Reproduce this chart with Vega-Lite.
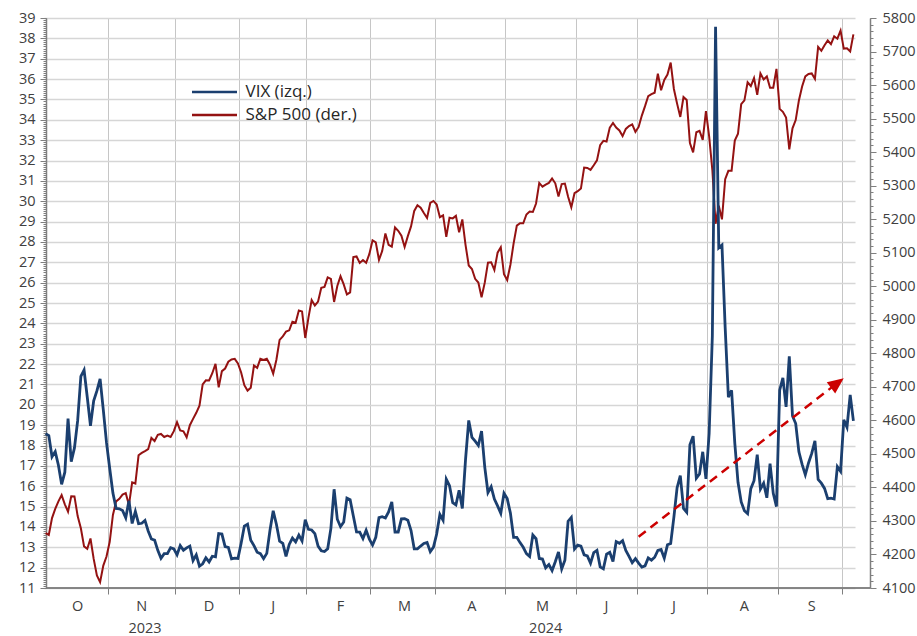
{
  "$schema": "https://vega.github.io/schema/vega-lite/v6.json",
  "width": 824,
  "height": 570,
  "autosize": {"type": "none"},
  "padding": {"left": 46, "top": 18, "right": 47, "bottom": 48},
  "background": "white",
  "config": {
    "font": "Open Sans",
    "view": {"stroke": null},
    "axis": {"labelFont": "Open Sans", "labelFontSize": 14.5, "labelColor": "#404040", "domainColor": "#7f7f7f", "tickColor": "#7f7f7f", "title": null},
    "legend": {"symbolType": "stroke", "symbolSize": 2025, "symbolStrokeWidth": 2.5, "labelFont": "Open Sans", "labelFontSize": 17, "labelColor": "#262626", "labelOffset": 7, "padding": 0}
  },
  "data": {"values": [
    {"date":"2023-10-04","vix":18.58,"spx":4263.75},{"date":"2023-10-05","vix":18.49,"spx":4258.19},{"date":"2023-10-06","vix":17.45,"spx":4308.50},{"date":"2023-10-09","vix":17.70,"spx":4335.66},{"date":"2023-10-10","vix":17.03,"spx":4358.24},{"date":"2023-10-11","vix":16.09,"spx":4376.95},{"date":"2023-10-12","vix":16.69,"spx":4349.61},{"date":"2023-10-13","vix":19.32,"spx":4327.78},{"date":"2023-10-16","vix":17.21,"spx":4373.63},{"date":"2023-10-17","vix":17.88,"spx":4373.20},{"date":"2023-10-18","vix":19.22,"spx":4314.60},{"date":"2023-10-19","vix":21.40,"spx":4278.00},{"date":"2023-10-20","vix":21.71,"spx":4224.16},{"date":"2023-10-23","vix":20.37,"spx":4217.04},{"date":"2023-10-24","vix":18.97,"spx":4247.68},{"date":"2023-10-25","vix":20.19,"spx":4186.77},{"date":"2023-10-26","vix":20.68,"spx":4137.23},{"date":"2023-10-27","vix":21.27,"spx":4117.37},{"date":"2023-10-30","vix":19.75,"spx":4166.82},{"date":"2023-10-31","vix":18.14,"spx":4193.80},
    {"date":"2023-11-01","vix":16.87,"spx":4237.86},{"date":"2023-11-02","vix":15.66,"spx":4317.78},{"date":"2023-11-03","vix":14.91,"spx":4358.34},{"date":"2023-11-06","vix":14.89,"spx":4365.98},{"date":"2023-11-07","vix":14.81,"spx":4378.38},{"date":"2023-11-08","vix":14.45,"spx":4382.78},{"date":"2023-11-09","vix":15.29,"spx":4347.35},{"date":"2023-11-10","vix":14.17,"spx":4415.24},{"date":"2023-11-13","vix":14.76,"spx":4411.55},{"date":"2023-11-14","vix":14.16,"spx":4495.70},{"date":"2023-11-15","vix":14.18,"spx":4502.88},{"date":"2023-11-16","vix":14.32,"spx":4508.24},{"date":"2023-11-17","vix":13.80,"spx":4514.02},{"date":"2023-11-20","vix":13.41,"spx":4547.38},{"date":"2023-11-21","vix":13.35,"spx":4538.19},{"date":"2023-11-22","vix":12.85,"spx":4556.62},{"date":"2023-11-24","vix":12.46,"spx":4559.34},{"date":"2023-11-27","vix":12.69,"spx":4550.43},{"date":"2023-11-28","vix":12.69,"spx":4554.89},{"date":"2023-11-29","vix":12.98,"spx":4550.58},{"date":"2023-11-30","vix":12.92,"spx":4567.80},
    {"date":"2023-12-01","vix":12.63,"spx":4594.63},{"date":"2023-12-04","vix":13.08,"spx":4569.78},{"date":"2023-12-05","vix":12.85,"spx":4567.18},{"date":"2023-12-06","vix":12.97,"spx":4549.34},{"date":"2023-12-07","vix":13.06,"spx":4585.59},{"date":"2023-12-08","vix":12.35,"spx":4604.37},{"date":"2023-12-11","vix":12.63,"spx":4622.44},{"date":"2023-12-12","vix":12.07,"spx":4643.70},{"date":"2023-12-13","vix":12.19,"spx":4707.09},{"date":"2023-12-14","vix":12.48,"spx":4719.55},{"date":"2023-12-15","vix":12.28,"spx":4719.19},{"date":"2023-12-18","vix":12.56,"spx":4740.56},{"date":"2023-12-19","vix":12.53,"spx":4768.37},{"date":"2023-12-20","vix":13.67,"spx":4698.35},{"date":"2023-12-21","vix":13.65,"spx":4746.75},{"date":"2023-12-22","vix":13.03,"spx":4754.63},{"date":"2023-12-26","vix":12.99,"spx":4774.75},{"date":"2023-12-27","vix":12.43,"spx":4781.58},{"date":"2023-12-28","vix":12.47,"spx":4783.35},{"date":"2023-12-29","vix":12.45,"spx":4769.83},
    {"date":"2024-01-02","vix":13.20,"spx":4742.83},{"date":"2024-01-03","vix":14.04,"spx":4704.81},{"date":"2024-01-04","vix":14.13,"spx":4688.68},{"date":"2024-01-05","vix":13.35,"spx":4697.24},{"date":"2024-01-08","vix":13.08,"spx":4763.54},{"date":"2024-01-09","vix":12.76,"spx":4756.50},{"date":"2024-01-10","vix":12.69,"spx":4783.45},{"date":"2024-01-11","vix":12.44,"spx":4780.24},{"date":"2024-01-12","vix":12.70,"spx":4783.83},{"date":"2024-01-16","vix":13.84,"spx":4765.98},{"date":"2024-01-17","vix":14.79,"spx":4739.21},{"date":"2024-01-18","vix":14.13,"spx":4780.94},{"date":"2024-01-19","vix":13.30,"spx":4839.81},{"date":"2024-01-22","vix":13.19,"spx":4850.43},{"date":"2024-01-23","vix":12.55,"spx":4864.60},{"date":"2024-01-24","vix":13.14,"spx":4868.55},{"date":"2024-01-25","vix":13.45,"spx":4894.16},{"date":"2024-01-26","vix":13.26,"spx":4890.97},{"date":"2024-01-29","vix":13.60,"spx":4927.93},{"date":"2024-01-30","vix":13.31,"spx":4924.97},{"date":"2024-01-31","vix":14.35,"spx":4845.65},
    {"date":"2024-02-01","vix":13.88,"spx":4906.19},{"date":"2024-02-02","vix":13.85,"spx":4958.61},{"date":"2024-02-05","vix":13.67,"spx":4942.81},{"date":"2024-02-06","vix":13.06,"spx":4954.23},{"date":"2024-02-07","vix":12.83,"spx":4995.06},{"date":"2024-02-08","vix":12.79,"spx":4997.91},{"date":"2024-02-09","vix":12.93,"spx":5026.61},{"date":"2024-02-12","vix":13.93,"spx":5021.84},{"date":"2024-02-13","vix":15.85,"spx":4953.17},{"date":"2024-02-14","vix":14.38,"spx":5000.62},{"date":"2024-02-15","vix":14.01,"spx":5029.73},{"date":"2024-02-16","vix":14.24,"spx":5005.57},{"date":"2024-02-20","vix":15.42,"spx":4975.51},{"date":"2024-02-21","vix":15.34,"spx":4981.80},{"date":"2024-02-22","vix":14.54,"spx":5087.03},{"date":"2024-02-23","vix":13.75,"spx":5088.80},{"date":"2024-02-26","vix":13.74,"spx":5069.53},{"date":"2024-02-27","vix":13.43,"spx":5078.18},{"date":"2024-02-28","vix":13.84,"spx":5069.76},{"date":"2024-02-29","vix":13.40,"spx":5096.27},
    {"date":"2024-03-01","vix":13.11,"spx":5137.08},{"date":"2024-03-04","vix":13.49,"spx":5130.95},{"date":"2024-03-05","vix":14.46,"spx":5078.65},{"date":"2024-03-06","vix":14.50,"spx":5104.76},{"date":"2024-03-07","vix":14.44,"spx":5157.36},{"date":"2024-03-08","vix":14.74,"spx":5123.69},{"date":"2024-03-11","vix":15.23,"spx":5117.94},{"date":"2024-03-12","vix":13.75,"spx":5175.27},{"date":"2024-03-13","vix":13.75,"spx":5165.31},{"date":"2024-03-14","vix":14.40,"spx":5150.48},{"date":"2024-03-15","vix":14.41,"spx":5117.09},{"date":"2024-03-18","vix":14.33,"spx":5149.42},{"date":"2024-03-19","vix":13.82,"spx":5178.51},{"date":"2024-03-20","vix":12.92,"spx":5224.62},{"date":"2024-03-21","vix":12.92,"spx":5241.53},{"date":"2024-03-22","vix":13.06,"spx":5234.18},{"date":"2024-03-25","vix":13.19,"spx":5218.19},{"date":"2024-03-26","vix":13.24,"spx":5203.58},{"date":"2024-03-27","vix":12.78,"spx":5248.49},{"date":"2024-03-28","vix":13.01,"spx":5254.35},
    {"date":"2024-04-01","vix":13.65,"spx":5243.77},{"date":"2024-04-02","vix":14.61,"spx":5205.81},{"date":"2024-04-03","vix":14.33,"spx":5211.49},{"date":"2024-04-04","vix":16.35,"spx":5147.21},{"date":"2024-04-05","vix":16.03,"spx":5204.34},{"date":"2024-04-08","vix":15.19,"spx":5202.39},{"date":"2024-04-09","vix":15.08,"spx":5209.91},{"date":"2024-04-10","vix":15.80,"spx":5160.64},{"date":"2024-04-11","vix":14.91,"spx":5199.06},{"date":"2024-04-12","vix":17.31,"spx":5123.41},{"date":"2024-04-15","vix":19.23,"spx":5061.82},{"date":"2024-04-16","vix":18.40,"spx":5051.41},{"date":"2024-04-17","vix":18.21,"spx":5022.21},{"date":"2024-04-18","vix":18.00,"spx":5011.12},{"date":"2024-04-19","vix":18.71,"spx":4967.23},{"date":"2024-04-22","vix":16.94,"spx":5010.60},{"date":"2024-04-23","vix":15.69,"spx":5070.55},{"date":"2024-04-24","vix":15.97,"spx":5071.63},{"date":"2024-04-25","vix":15.37,"spx":5048.42},{"date":"2024-04-26","vix":15.03,"spx":5099.96},{"date":"2024-04-29","vix":14.67,"spx":5116.17},{"date":"2024-04-30","vix":15.65,"spx":5035.69},
    {"date":"2024-05-01","vix":15.39,"spx":5018.39},{"date":"2024-05-02","vix":14.68,"spx":5064.20},{"date":"2024-05-03","vix":13.49,"spx":5127.79},{"date":"2024-05-06","vix":13.49,"spx":5180.74},{"date":"2024-05-07","vix":13.23,"spx":5187.70},{"date":"2024-05-08","vix":13.00,"spx":5187.67},{"date":"2024-05-09","vix":12.69,"spx":5214.08},{"date":"2024-05-10","vix":12.55,"spx":5222.68},{"date":"2024-05-13","vix":13.60,"spx":5221.42},{"date":"2024-05-14","vix":13.42,"spx":5246.68},{"date":"2024-05-15","vix":12.45,"spx":5308.15},{"date":"2024-05-16","vix":12.42,"spx":5297.10},{"date":"2024-05-17","vix":11.99,"spx":5303.27},{"date":"2024-05-20","vix":12.15,"spx":5308.13},{"date":"2024-05-21","vix":11.86,"spx":5321.41},{"date":"2024-05-22","vix":12.29,"spx":5307.01},{"date":"2024-05-23","vix":12.77,"spx":5267.84},{"date":"2024-05-24","vix":11.93,"spx":5304.72},{"date":"2024-05-28","vix":12.36,"spx":5306.04},{"date":"2024-05-29","vix":14.28,"spx":5266.95},{"date":"2024-05-30","vix":14.47,"spx":5235.48},{"date":"2024-05-31","vix":12.92,"spx":5277.51},
    {"date":"2024-06-03","vix":13.11,"spx":5283.40},{"date":"2024-06-04","vix":13.06,"spx":5291.34},{"date":"2024-06-05","vix":12.63,"spx":5354.03},{"date":"2024-06-06","vix":12.58,"spx":5352.96},{"date":"2024-06-07","vix":12.22,"spx":5346.99},{"date":"2024-06-10","vix":12.74,"spx":5360.79},{"date":"2024-06-11","vix":12.85,"spx":5375.32},{"date":"2024-06-12","vix":12.04,"spx":5421.03},{"date":"2024-06-13","vix":11.94,"spx":5433.74},{"date":"2024-06-14","vix":12.66,"spx":5431.60},{"date":"2024-06-17","vix":12.75,"spx":5473.23},{"date":"2024-06-18","vix":12.30,"spx":5487.03},{"date":"2024-06-20","vix":13.28,"spx":5473.17},{"date":"2024-06-21","vix":13.20,"spx":5464.62},{"date":"2024-06-24","vix":13.33,"spx":5447.87},{"date":"2024-06-25","vix":12.84,"spx":5469.30},{"date":"2024-06-26","vix":12.55,"spx":5477.90},{"date":"2024-06-27","vix":12.24,"spx":5482.87},{"date":"2024-06-28","vix":12.44,"spx":5460.48},
    {"date":"2024-07-01","vix":12.22,"spx":5475.09},{"date":"2024-07-02","vix":12.03,"spx":5509.01},{"date":"2024-07-03","vix":12.09,"spx":5537.02},{"date":"2024-07-05","vix":12.48,"spx":5567.19},{"date":"2024-07-08","vix":12.37,"spx":5572.85},{"date":"2024-07-09","vix":12.51,"spx":5576.98},{"date":"2024-07-10","vix":12.85,"spx":5633.91},{"date":"2024-07-11","vix":12.89,"spx":5584.54},{"date":"2024-07-12","vix":12.46,"spx":5615.35},{"date":"2024-07-15","vix":13.12,"spx":5631.22},{"date":"2024-07-16","vix":13.19,"spx":5667.20},{"date":"2024-07-17","vix":14.48,"spx":5588.27},{"date":"2024-07-18","vix":15.93,"spx":5544.59},{"date":"2024-07-19","vix":16.52,"spx":5505.00},{"date":"2024-07-22","vix":14.91,"spx":5564.41},{"date":"2024-07-23","vix":14.72,"spx":5555.74},{"date":"2024-07-24","vix":18.04,"spx":5427.13},{"date":"2024-07-25","vix":18.46,"spx":5399.22},{"date":"2024-07-26","vix":16.39,"spx":5459.10},{"date":"2024-07-29","vix":16.60,"spx":5463.54},{"date":"2024-07-30","vix":17.69,"spx":5436.44},{"date":"2024-07-31","vix":16.36,"spx":5522.30},
    {"date":"2024-08-01","vix":18.59,"spx":5446.68},{"date":"2024-08-02","vix":23.39,"spx":5346.56},{"date":"2024-08-05","vix":38.57,"spx":5186.33},{"date":"2024-08-06","vix":27.71,"spx":5240.03},{"date":"2024-08-07","vix":27.85,"spx":5199.50},{"date":"2024-08-08","vix":23.79,"spx":5319.31},{"date":"2024-08-09","vix":20.37,"spx":5344.16},{"date":"2024-08-12","vix":20.71,"spx":5344.39},{"date":"2024-08-13","vix":18.12,"spx":5434.43},{"date":"2024-08-14","vix":16.19,"spx":5455.21},{"date":"2024-08-15","vix":15.23,"spx":5543.22},{"date":"2024-08-16","vix":14.80,"spx":5554.25},{"date":"2024-08-19","vix":14.65,"spx":5608.25},{"date":"2024-08-20","vix":15.88,"spx":5597.12},{"date":"2024-08-21","vix":16.27,"spx":5620.85},{"date":"2024-08-22","vix":17.55,"spx":5570.64},{"date":"2024-08-23","vix":15.86,"spx":5634.61},{"date":"2024-08-26","vix":16.15,"spx":5616.84},{"date":"2024-08-27","vix":15.43,"spx":5625.80},{"date":"2024-08-28","vix":17.11,"spx":5592.18},{"date":"2024-08-29","vix":15.65,"spx":5591.96},{"date":"2024-08-30","vix":15.00,"spx":5648.40},
    {"date":"2024-09-03","vix":20.72,"spx":5528.93},{"date":"2024-09-04","vix":21.32,"spx":5520.07},{"date":"2024-09-05","vix":19.90,"spx":5503.41},{"date":"2024-09-06","vix":22.38,"spx":5408.42},{"date":"2024-09-09","vix":19.45,"spx":5471.05},{"date":"2024-09-10","vix":19.08,"spx":5495.52},{"date":"2024-09-11","vix":17.69,"spx":5554.13},{"date":"2024-09-12","vix":17.07,"spx":5595.76},{"date":"2024-09-13","vix":16.56,"spx":5626.02},{"date":"2024-09-16","vix":17.14,"spx":5633.09},{"date":"2024-09-17","vix":17.61,"spx":5634.58},{"date":"2024-09-18","vix":18.23,"spx":5618.26},{"date":"2024-09-19","vix":16.33,"spx":5713.64},{"date":"2024-09-20","vix":16.15,"spx":5702.55},{"date":"2024-09-23","vix":15.89,"spx":5718.57},{"date":"2024-09-24","vix":15.39,"spx":5732.93},{"date":"2024-09-25","vix":15.41,"spx":5722.26},{"date":"2024-09-26","vix":15.37,"spx":5745.37},{"date":"2024-09-27","vix":16.96,"spx":5738.17},{"date":"2024-09-30","vix":16.73,"spx":5762.48},
    {"date":"2024-10-01","vix":19.26,"spx":5708.75},{"date":"2024-10-02","vix":18.90,"spx":5709.54},{"date":"2024-10-03","vix":20.49,"spx":5699.94},{"date":"2024-10-04","vix":19.21,"spx":5751.07}
  ]},
  "resolve": {"scale": {"y": "independent"}, "axis": {"x": "independent"}},
  "layer": [
    {
      "resolve": {"axis": {"x": "independent", "y": "independent"}},
      "layer": [
        {
          "mark": {"type": "line", "strokeWidth": 2, "interpolate": "linear"},
          "encoding": {
            "x": {"field": "date", "type": "ordinal", "bandPosition": 0.5,
              "scale": {"type": "band", "range": [-2, 809], "paddingInner": 0, "paddingOuter": 0},
              "axis": {"orient": "bottom", "title": null,
                "values": ["2023-10-18","2023-11-15","2023-12-15","2024-01-17","2024-02-15","2024-03-15","2024-04-16","2024-05-16","2024-06-14","2024-07-17","2024-08-16","2024-09-17"],
                "bandPosition": 0,
                "labelExpr": "['J','F','M','A','M','J','J','A','S','O','N','D'][toNumber(substring(datum.value, 5, 7)) - 1]",
                "ticks": false, "domain": false, "grid": false, "labelPadding": 11, "labelAngle": 0,
                "labelOverlap": false, "labelFlush": false, "labelAlign": "center"}},
            "y": {"field": "spx", "type": "quantitative",
              "scale": {"domain": [4100, 5800], "nice": false, "zero": false},
              "axis": {"orient": "right", "title": null,
                "values": [4100,4200,4300,4400,4500,4600,4700,4800,4900,5000,5100,5200,5300,5400,5500,5600,5700,5800],
                "format": "d", "labelOverlap": false, "labelFlush": false, "labelPadding": 6,
                "tickSize": 6, "grid": false, "domainWidth": 1.5}},
            "color": {"datum": "S&P 500 (der.)", "type": "nominal",
              "scale": {"domain": ["S&P 500 (der.)"], "range": ["#941212"]},
              "legend": {"orient": "none", "legendX": 144.5, "legendY": 73, "title": null}}
          }
        },
        {
          "data": {"values": [{"axisMin": 4100}]},
          "mark": {"type": "rule", "color": "#7f7f7f", "strokeWidth": 1.5},
          "encoding": {
            "y": {"field": "axisMin", "type": "quantitative",
              "scale": {"domain": [4100, 5800], "nice": false, "zero": false},
              "axis": {"orient": "right", "title": null,
                "values": [4100,4120,4140,4160,4180,4200,4220,4240,4260,4280,4300,4320,4340,4360,4380,4400,4420,4440,4460,4480,4500,4520,4540,4560,4580,4600,4620,4640,4660,4680,4700,4720,4740,4760,4780,4800,4820,4840,4860,4880,4900,4920,4940,4960,4980,5000,5020,5040,5060,5080,5100,5120,5140,5160,5180,5200,5220,5240,5260,5280,5300,5320,5340,5360,5380,5400,5420,5440,5460,5480,5500,5520,5540,5560,5580,5600,5620,5640,5660,5680,5700,5720,5740,5760,5780,5800],
                "labels": false, "ticks": true, "tickSize": 3, "domain": false, "grid": false}}
          }
        }
      ]
    },
    {
      "resolve": {"axis": {"x": "independent", "y": "independent"}},
      "layer": [
        {
          "mark": {"type": "line", "strokeWidth": 2.8, "interpolate": "linear"},
          "encoding": {
            "x": {"field": "date", "type": "ordinal", "bandPosition": 0.5,
              "scale": {"type": "band", "range": [-2, 809], "paddingInner": 0, "paddingOuter": 0},
              "axis": {"orient": "bottom", "title": null,
                "values": ["2023-11-01","2023-12-01","2024-01-02","2024-02-01","2024-03-01","2024-04-01","2024-05-01","2024-06-03","2024-07-01","2024-08-01","2024-09-03","2024-10-01"],
                "bandPosition": 0, "labels": false, "ticks": true, "tickSize": 6, "tickColor": "#7f7f7f",
                "grid": true, "gridColor": "#c6c6c6", "gridWidth": 1, "domain": false}},
            "y": {"field": "vix", "type": "quantitative",
              "scale": {"domain": [11, 39], "nice": false, "zero": false},
              "axis": {"orient": "left", "title": null,
                "values": [11,12,13,14,15,16,17,18,19,20,21,22,23,24,25,26,27,28,29,30,31,32,33,34,35,36,37,38,39],
                "format": "d", "labelOverlap": false, "labelFlush": false, "labelPadding": 5,
                "tickSize": 6, "grid": true, "gridColor": "#d6d6d6", "gridWidth": 1.5, "domainWidth": 1.5}},
            "stroke": {"datum": "VIX (izq.)", "type": "nominal",
              "scale": {"domain": ["VIX (izq.)"], "range": ["#1b3f6f"]},
              "legend": {"orient": "none", "legendX": 144.5, "legendY": 50, "title": null}}
          }
        },
        {
          "data": {"values": [{"axisMin": 11}]},
          "mark": {"type": "rule", "color": "#7f7f7f", "strokeWidth": 1.5},
          "encoding": {
            "y": {"field": "axisMin", "type": "quantitative",
              "scale": {"domain": [11, 39], "nice": false, "zero": false},
              "axis": {"orient": "left", "title": null,
                "values": [11,11.1,11.2,11.3,11.4,11.5,11.6,11.7,11.8,11.9,12,12.1,12.2,12.3,12.4,12.5,12.6,12.7,12.8,12.9,13,13.1,13.2,13.3,13.4,13.5,13.6,13.7,13.8,13.9,14,14.1,14.2,14.3,14.4,14.5,14.6,14.7,14.8,14.9,15,15.1,15.2,15.3,15.4,15.5,15.6,15.7,15.8,15.9,16,16.1,16.2,16.3,16.4,16.5,16.6,16.7,16.8,16.9,17,17.1,17.2,17.3,17.4,17.5,17.6,17.7,17.8,17.9,18,18.1,18.2,18.3,18.4,18.5,18.6,18.7,18.8,18.9,19,19.1,19.2,19.3,19.4,19.5,19.6,19.7,19.8,19.9,20,20.1,20.2,20.3,20.4,20.5,20.6,20.7,20.8,20.9,21,21.1,21.2,21.3,21.4,21.5,21.6,21.7,21.8,21.9,22,22.1,22.2,22.3,22.4,22.5,22.6,22.7,22.8,22.9,23,23.1,23.2,23.3,23.4,23.5,23.6,23.7,23.8,23.9,24,24.1,24.2,24.3,24.4,24.5,24.6,24.7,24.8,24.9,25,25.1,25.2,25.3,25.4,25.5,25.6,25.7,25.8,25.9,26,26.1,26.2,26.3,26.4,26.5,26.6,26.7,26.8,26.9,27,27.1,27.2,27.3,27.4,27.5,27.6,27.7,27.8,27.9,28,28.1,28.2,28.3,28.4,28.5,28.6,28.7,28.8,28.9,29,29.1,29.2,29.3,29.4,29.5,29.6,29.7,29.8,29.9,30,30.1,30.2,30.3,30.4,30.5,30.6,30.7,30.8,30.9,31,31.1,31.2,31.3,31.4,31.5,31.6,31.7,31.8,31.9,32,32.1,32.2,32.3,32.4,32.5,32.6,32.7,32.8,32.9,33,33.1,33.2,33.3,33.4,33.5,33.6,33.7,33.8,33.9,34,34.1,34.2,34.3,34.4,34.5,34.6,34.7,34.8,34.9,35,35.1,35.2,35.3,35.4,35.5,35.6,35.7,35.8,35.9,36,36.1,36.2,36.3,36.4,36.5,36.6,36.7,36.8,36.9,37,37.1,37.2,37.3,37.4,37.5,37.6,37.7,37.8,37.9,38,38.1,38.2,38.3,38.4,38.5,38.6,38.7,38.8,38.9,39],
                "labels": false, "ticks": true, "tickSize": 3, "domain": false, "grid": false}}
          }
        },
        {
          "data": {"values": [{"date": "2024-07-01", "v": 13.52}, {"date": "2024-09-27", "v": 21.07}]},
          "mark": {"type": "line", "color": "#cc0000", "strokeWidth": 2.5, "strokeDash": [9, 6]},
          "encoding": {
            "x": {"field": "date", "type": "ordinal", "bandPosition": 0.5,
              "scale": {"type": "band", "range": [-2, 809], "paddingInner": 0, "paddingOuter": 0},
              "axis": {"orient": "bottom", "title": null,
                "values": ["2023-11-16", "2024-05-17"], "bandPosition": 0,
                "labelExpr": "substring(datum.value, 0, 4)",
                "ticks": false, "domain": false, "grid": false, "labelPadding": 33, "labelAngle": 0,
                "labelOverlap": false, "labelFlush": false, "labelAlign": "center"}},
            "y": {"field": "v", "type": "quantitative", "scale": {"domain": [11, 39], "nice": false, "zero": false}, "axis": null}
          }
        },
        {
          "data": {"values": [{"date": "2024-09-27", "v": 21.07}]},
          "mark": {"type": "point", "shape": "M1,0L-1,-0.875L-1,0.875Z", "filled": true, "color": "#cc0000", "size": 256, "angle": -37, "opacity": 1, "strokeWidth": 0},
          "encoding": {
            "x": {"field": "date", "type": "ordinal", "bandPosition": 0.5,
              "scale": {"type": "band", "range": [-2, 809], "paddingInner": 0, "paddingOuter": 0},
              "axis": null},
            "y": {"field": "v", "type": "quantitative", "scale": {"domain": [11, 39], "nice": false, "zero": false}, "axis": null}
          }
        }
      ]
    }
  ]
}
